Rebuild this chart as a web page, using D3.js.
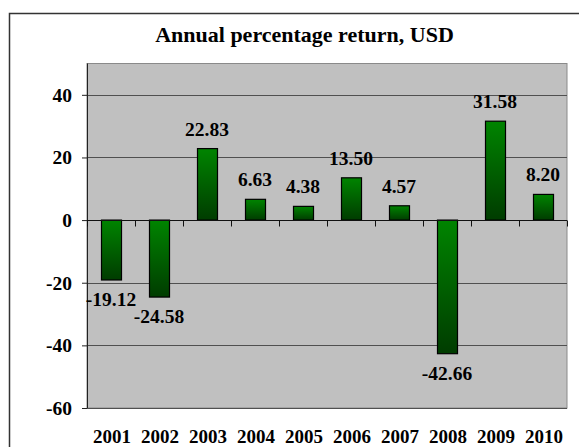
<!DOCTYPE html>
<html>
<head>
<meta charset="utf-8">
<script src="https://cdn.jsdelivr.net/npm/d3@7"></script>
<style>
  body { margin: 0; background: #fff; }
  text { font-family: "Liberation Serif", "Times New Roman", serif; font-weight: bold; fill: #000; }
</style>
</head>
<body>
<svg id="chart" width="579" height="447"></svg>
<script>
// chart data
var years = ["2001", "2002", "2003", "2004", "2005", "2006", "2007", "2008", "2009", "2010"];
var returns = [-19.12, -24.58, 22.83, 6.63, 4.38, 13.50, 4.57, -42.66, 31.58, 8.20];
var yTicks = [-60, -40, -20, 0, 20, 40];
var title = "Annual percentage return, USD";

var svg = d3.select("#chart");
// plot box (window.top is reserved, so no plain "top" here)
var plotLeft = 87, plotRight = 567, plotTop = 63.5, plotBottom = 408;

// outer frame (runs off the right and bottom edge like the original)
svg.append("rect")
    .attr("x", 9.5).attr("y", 13.5)
    .attr("width", 620).attr("height", 480)
    .attr("fill", "#fff")
    .attr("stroke", "#333")
    .attr("stroke-width", 1.5);

svg.append("text")
    .attr("x", 304.5).attr("y", 41.5)
    .attr("text-anchor", "middle")
    .attr("font-size", 22)
    .text(title);

var x = d3.scaleBand()
    .domain(years)
    .range([plotLeft, plotRight])
    .paddingInner(0.583)
    .paddingOuter(0.2915);

var y = d3.scaleLinear()
    .domain([-60, 50])
    .range([plotBottom, plotTop]);

// plot area
svg.append("rect")
    .attr("x", plotLeft).attr("y", plotTop)
    .attr("width", plotRight - plotLeft).attr("height", plotBottom - plotTop)
    .attr("fill", "#c0c0c0")
    .attr("stroke", "#8a8a8a")
    .attr("stroke-width", 1);

// gridlines
svg.selectAll(".grid")
    .data(yTicks.filter(function (d) { return d != 0; }))
    .enter().append("line")
    .attr("x1", plotLeft).attr("x2", plotRight)
    .attr("y1", function (d) { return Math.round(y(d)) + 0.5; })
    .attr("y2", function (d) { return Math.round(y(d)) + 0.5; })
    .attr("stroke", "#505050")
    .attr("stroke-width", 1);

// y axis, plain hyphen for negatives like the original
var yAxis = svg.append("g")
    .attr("transform", "translate(" + plotLeft + ",0)")
    .call(d3.axisLeft(y).tickValues(yTicks).tickSize(5).tickPadding(10)
        .tickFormat(function (d) { return String(d); }));
yAxis.select(".domain").attr("stroke", "#222").attr("d", "M0.5," + plotTop + "V" + plotBottom);
yAxis.selectAll(".tick line").attr("stroke", "#222");
yAxis.selectAll(".tick text")
    .attr("font-size", 19.5)
    .attr("font-family", null)
    .attr("fill", "#000")
    .attr("dy", "0.33em");

// bar gradient
var grad = svg.append("defs").append("linearGradient")
    .attr("id", "barGrad")
    .attr("x1", 0).attr("y1", 0).attr("x2", 0).attr("y2", 1);
grad.append("stop").attr("offset", "0%").attr("stop-color", "#008400");
grad.append("stop").attr("offset", "100%").attr("stop-color", "#003c00");

svg.selectAll(".bar")
    .data(returns)
    .enter().append("rect")
    .attr("class", "bar")
    .attr("x", function (d, i) { return x(years[i]) + 0.5; })
    .attr("y", function (d) { return y(Math.max(0, d)); })
    .attr("width", x.bandwidth())
    .attr("height", function (d) { return Math.abs(y(d) - y(0)); })
    .attr("fill", "url(#barGrad)")
    .attr("stroke", "#000")
    .attr("stroke-width", 1.2);

// zero axis with ticks at category boundaries
var zeroY = Math.round(y(0)) + 0.5;
svg.append("line")
    .attr("x1", plotLeft).attr("x2", plotRight)
    .attr("y1", zeroY).attr("y2", zeroY)
    .attr("stroke", "#111").attr("stroke-width", 1.2);
svg.selectAll(".xtick")
    .data(d3.range(years.length + 1))
    .enter().append("line")
    .attr("x1", function (i) { return Math.round(plotLeft + i * x.step()) + 0.5; })
    .attr("x2", function (i) { return Math.round(plotLeft + i * x.step()) + 0.5; })
    .attr("y1", zeroY).attr("y2", zeroY + 6)
    .attr("stroke", "#111");

// value labels
svg.selectAll(".val")
    .data(returns)
    .enter().append("text")
    .attr("x", function (d, i) { return x(years[i]) + x.bandwidth() / 2; })
    .attr("y", function (d) { return d >= 0 ? y(d) - 13 : y(d) + 26; })
    .attr("text-anchor", "middle")
    .attr("font-size", 19.5)
    .text(function (d) { return d.toFixed(2); });

// category labels
svg.selectAll(".cat")
    .data(years)
    .enter().append("text")
    .attr("x", function (d) { return x(d) + x.bandwidth() / 2 + 1; })
    .attr("y", 443)
    .attr("text-anchor", "middle")
    .attr("font-size", 19)
    .text(function (d) { return d; });
</script>
</body>
</html>
